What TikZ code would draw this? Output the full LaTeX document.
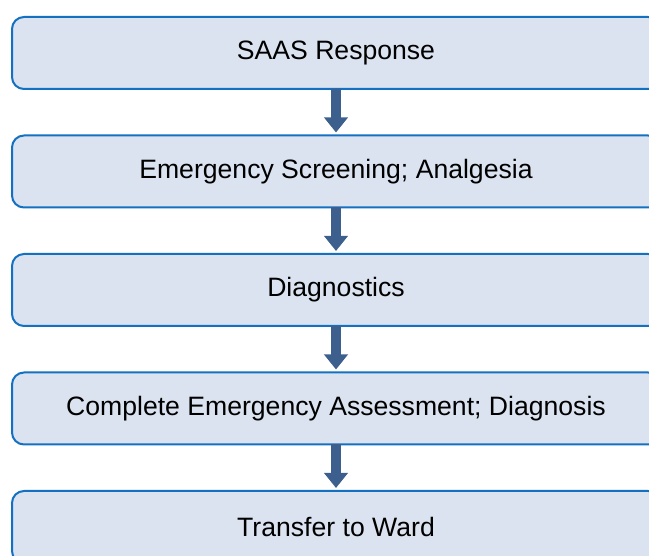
\documentclass[tikz,border=0pt]{standalone}
\usepackage{fontspec}
\setmainfont{Liberation Sans}
\usetikzlibrary{positioning, arrows.meta}
\definecolor{boxline}{RGB}{20,112,192}
\definecolor{boxfill}{RGB}{219,227,240}
\definecolor{arrowblue}{RGB}{61,95,142}

\begin{document}
\begin{tikzpicture}[x=1pt,y=1pt,node distance=46.5pt,font=\fontsize{26.6}{32}\selectfont]
  \tikzstyle{stage}=[rectangle,rounded corners=12pt,draw=boxline,line width=2pt,fill=boxfill,minimum width=648pt,minimum height=72pt,inner sep=0pt,outer sep=0pt]
  \tikzstyle{flow}=[draw=arrowblue,line width=10pt,-{Triangle[width=23pt,length=15pt]},shorten >=3pt]

  \useasboundingbox (0,0) rectangle (649,-556);
  \clip (0,0) rectangle (649,-556);

  \node[stage] (b1) at (336,-53) {SAAS Response};
  \node[stage] (b2) [below=of b1] {Emergency Screening; Analgesia};
  \node[stage] (b3) [below=of b2] {Diagnostics};
  \node[stage] (b4) [below=of b3] {Complete Emergency Assessment; Diagnosis};
  \node[stage] (b5) [below=of b4] {Transfer to Ward};

  \draw[flow] (b1) -- (b2);
  \draw[flow] (b2) -- (b3);
  \draw[flow] (b3) -- (b4);
  \draw[flow] (b4) -- (b5);
\end{tikzpicture}
\end{document}
